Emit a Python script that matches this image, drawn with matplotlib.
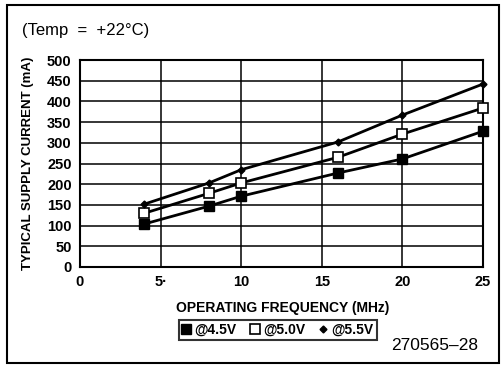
import matplotlib.pyplot as plt
from matplotlib.patches import Rectangle

# Supply current vs operating frequency at three supply voltages
freq_mhz = [4, 8, 10, 16, 20, 25]
current_45v = [104, 147, 171, 227, 261, 328]
current_50v = [130, 178, 203, 265, 321, 384]
current_55v = [152, 203, 235, 302, 367, 442]
series_labels = ["@4.5V", "@5.0V", "@5.5V"]

x_ticks = [0, 5, 10, 15, 20, 25]
x_tick_labels = ["0", "5·", "10", "15", "20", "25"]
y_ticks = list(range(0, 501, 50))

plt.rcParams['font.family'] = ['Liberation Sans', 'DejaVu Sans']

W, H = 501, 366
fig = plt.figure(figsize=(W / 100, H / 100), dpi=100)
fig.patch.set_facecolor("white")

# axes placed in pixel coordinates: left 80, right 483, top 60, bottom 267
ax = fig.add_axes([80 / W, 1 - 267 / H, (483 - 80) / W, (267 - 60) / H])

ax.plot(freq_mhz, current_45v, color="black", lw=2, marker="s", ms=7,
        mfc="black", mec="black", label=series_labels[0], zorder=3,
        clip_on=False)
ax.plot(freq_mhz, current_50v, color="black", lw=2, marker="s", ms=7.5,
        mfc="white", mec="black", mew=1.2, label=series_labels[1], zorder=3,
        clip_on=False)
ax.plot(freq_mhz, current_55v, color="black", lw=2, marker="D", ms=3.5,
        mfc="black", mec="black", label=series_labels[2], zorder=3,
        clip_on=False)

ax.set_xlim(0, 25)
ax.set_ylim(0, 500)
ax.set_xticks(x_ticks)
ax.set_xticklabels(x_tick_labels, fontweight="bold", fontsize=10.5)
ax.set_yticks(y_ticks)
ax.set_yticklabels([str(v) for v in y_ticks], fontweight="bold", fontsize=10.5)
ax.tick_params(length=0, pad=6)
ax.grid(True, color="black", lw=1.1)
for s in ax.spines.values():
    s.set_linewidth(1.5)

ax.set_ylabel("TYPICAL SUPPLY CURRENT (mA)", fontweight="bold", fontsize=9.5,
              labelpad=9)
fig.text(283 / W, 1 - 308 / H, "OPERATING FREQUENCY (MHz)",
         fontweight="bold", fontsize=10, ha="center", va="center")

leg = fig.legend(loc="center", bbox_to_anchor=(278 / W, 1 - 330 / H), ncol=3,
                 frameon=True, fancybox=False, edgecolor="black",
                 handlelength=0.6, handletextpad=0.3, columnspacing=1.0,
                 borderpad=0.25, prop={"weight": "bold", "size": 10})
for h in leg.legend_handles:
    h.set_linestyle("none")
leg.get_frame().set_linewidth(1.5)

fig.text(22 / W, 1 - 30 / H, "(Temp  =  +22°C)", fontsize=12,
         ha="left", va="center")
fig.text(478 / W, 1 - 346 / H, "270565–28", fontsize=12.5,
         ha="right", va="center")

# outer border
fig.patches.append(Rectangle((7 / W, 1 - 363 / H), 492 / W, 358 / H,
                             transform=fig.transFigure, fill=False,
                             edgecolor="black", lw=1.5))

fig.savefig("out.png", dpi=100)
